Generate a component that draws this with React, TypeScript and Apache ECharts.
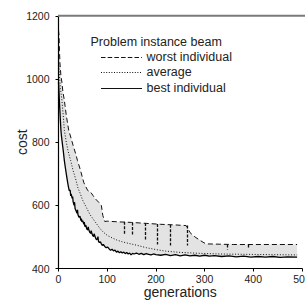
import React, { useEffect, useRef } from "react";
import * as echarts from "echarts";

const FONT = "Liberation Sans, Arial, sans-serif";

// worst individual (dashed)
const worstGen = [0, 1, 2, 3, 5, 7, 9, 12, 16, 21, 26, 30, 35, 39, 45, 52, 60, 66, 71, 75, 80, 85, 88, 91, 95, 100, 120, 150, 180, 210, 240, 262, 266, 270, 276, 282, 290, 297, 303, 330, 360, 400, 450, 490];
const worstVal = [1155, 1140, 1090, 1050, 1010, 990, 960, 933, 885, 838, 812, 790, 765, 742, 712, 672, 647, 642, 631, 622, 614, 606, 600, 568, 549, 550, 548, 546, 543, 540, 538, 536, 526, 514, 505, 498, 490, 483, 478, 477, 476, 476, 476, 476];

// vertical dips of the worst individual
const spikeGen = [134, 152, 178, 203, 229, 264, 346, 389];
const spikeTop = [548, 546, 544, 541, 539, 536, 476, 476];
const spikeBottom = [505, 503, 490, 476, 473, 473, 460, 466];

// average (dotted)
const avgGen = [0, 2, 4, 7, 10, 12, 16, 20, 25, 30, 35, 40, 45, 50, 57, 65, 72, 78, 85, 92, 100, 110, 120, 130, 140, 160, 180, 200, 220, 250, 290, 330, 380, 430, 490];
const avgVal = [1060, 1010, 970, 933, 880, 838, 800, 770, 742, 710, 685, 655, 636, 615, 594, 570, 555, 542, 527, 515, 505, 497, 490, 485, 481, 474, 466, 460, 455, 451, 448, 446, 445, 444, 443];

// best individual (solid)
const bestGen = [0, 1, 2, 3, 4, 5, 6, 8, 10, 12, 14, 16, 18, 20, 22, 24, 25, 26, 28, 29, 30, 32, 33, 34, 36, 38, 39, 40, 42, 44, 46, 47, 48, 50, 52, 53, 54, 56, 58, 60, 61, 62, 64, 66, 67, 68, 70, 72, 73, 74, 76, 78, 80, 81, 82, 84, 86, 88, 90, 92, 95, 98, 101, 104, 107, 110, 113, 116, 119, 122, 125, 128, 131, 134, 137, 140, 143, 146, 149, 152, 155, 160, 165, 170, 175, 180, 185, 190, 195, 200, 210, 220, 230, 240, 250, 260, 270, 280, 290, 300, 310, 320, 335, 350, 365, 380, 395, 410, 425, 440, 455, 470, 490];
const bestVal = [990, 960, 925, 895, 865, 838, 820, 795, 770, 742, 720, 700, 680, 662, 647, 648, 630, 636, 622, 628, 612, 600, 610, 590, 583, 575, 586, 570, 562, 566, 552, 558, 548, 551, 540, 547, 533, 537, 526, 522, 532, 524, 515, 511, 520, 514, 505, 501, 510, 506, 497, 491, 494, 501, 487, 482, 485, 478, 473, 476, 470, 466, 468, 462, 458, 461, 456, 458, 452, 455, 450, 453, 449, 452, 447, 451, 446, 449, 443, 448, 446, 449, 445, 448, 444, 447, 445, 443, 446, 444, 442, 445, 441, 444, 440, 443, 440, 442, 439, 442, 439, 441, 438, 440, 437, 439, 436, 438, 436, 438, 435, 437, 436];

// axis ticks
const xTicks = { min: 0, max: 500, interval: 100 };
const yTicks = { min: 400, max: 1200, interval: 200 };

const legendTitle = "Problem instance beam";
const legendNames = ["worst individual", "average", "best individual"];

export default function App() {
  const ref = useRef<HTMLDivElement>(null);
  useEffect(() => {
    if (!ref.current) return;
    const chart = echarts.init(ref.current, undefined, { renderer: "svg" });
    const worst = worstGen.map((g, i) => [g, worstVal[i]]);
    const avg = avgGen.map((g, i) => [g, avgVal[i]]);
    const best = bestGen.map((g, i) => [g, bestVal[i]]);
    const ink = "#111";
    const legendY = [57.5, 72.5, 88.5];
    const dashes = [[4.5, 2.2], [1, 1.6], null];
    chart.setOption({
      animation: false,
      grid: { left: 58.5, right: 3, top: 16, bottom: 31.5, containLabel: false, outerBoundsMode: "none" },
      xAxis: {
        type: "value",
        min: xTicks.min,
        max: xTicks.max,
        interval: xTicks.interval,
        z: 10,
        axisLine: { show: true, onZero: false, lineStyle: { color: "#000", width: 1.2 } },
        axisTick: { show: true, length: 3, lineStyle: { color: "#000" } },
        axisLabel: { fontSize: 10.5, color: "#222", margin: 5, fontFamily: FONT, formatter: (v: number) => String(v) },
        splitLine: { show: false },
        name: "generations",
        nameLocation: "middle",
        nameGap: 16,
        nameMoveOverlap: false,
        nameTextStyle: { fontSize: 14, color: "#222", fontFamily: FONT },
      },
      yAxis: {
        type: "value",
        min: yTicks.min,
        max: yTicks.max,
        interval: yTicks.interval,
        z: 10,
        axisLine: { show: true, onZero: false, lineStyle: { color: "#000", width: 1.2 } },
        axisTick: { show: true, length: 3, lineStyle: { color: "#000" } },
        axisLabel: { fontSize: 10.5, color: "#222", margin: 9, fontFamily: FONT, formatter: (v: number) => String(v) },
        splitLine: { show: false },
        name: "cost",
        nameLocation: "middle",
        nameGap: 30,
        nameMoveOverlap: false,
        nameTextStyle: { fontSize: 14, color: "#222", fontFamily: FONT },
      },
      series: [
        {
          type: "line",
          data: worst,
          symbol: "none",
          z: 1,
          lineStyle: { width: 0 },
          areaStyle: { color: "#e3e3e3", opacity: 1, origin: "start" },
          silent: true,
        },
        {
          type: "line",
          data: best,
          symbol: "none",
          z: 2,
          lineStyle: { width: 0 },
          areaStyle: { color: "#ffffff", opacity: 1, origin: "start" },
          silent: true,
        },
        {
          type: "line",
          data: worst,
          symbol: "none",
          z: 4,
          lineStyle: { color: ink, width: 1, type: [5, 3] },
          markLine: {
            silent: true,
            symbol: "none",
            label: { show: false },
            lineStyle: { color: ink, width: 1.3, type: [3, 1.5] },
            data: spikeGen.map((g, i) => [
              { coord: [g, spikeTop[i]] },
              { coord: [g, spikeBottom[i]] },
            ]),
          },
        },
        {
          type: "line",
          data: avg,
          symbol: "none",
          z: 4,
          lineStyle: { color: ink, width: 1, type: [1, 1.8] },
        },
        {
          type: "line",
          data: best,
          symbol: "none",
          z: 5,
          lineStyle: { color: "#000", width: 1.3 },
        },
      ],
      graphic: [
        {
          type: "line",
          z: 20,
          shape: { x1: 58, y1: 15.7, x2: 305, y2: 15.7 },
          style: { stroke: "#7a7a7a", lineWidth: 2 },
        },
        {
          type: "text",
          left: 90.5,
          top: 35,
          style: { text: legendTitle, fontSize: 12.5, fill: "#222", fontFamily: FONT },
        },
        ...legendNames.flatMap((name, i) => [
          {
            type: "line",
            shape: { x1: 101, y1: legendY[i], x2: 142, y2: legendY[i] },
            style: { stroke: ink, lineWidth: 1, lineDash: dashes[i] || undefined },
          },
          {
            type: "text",
            left: 146.5,
            top: legendY[i] - 7.5,
            style: { text: name, fontSize: 12.5, fill: "#222", fontFamily: FONT },
          },
        ]),
      ],
    });
    return () => chart.dispose();
  }, []);
  return (
    <div
      ref={ref}
      style={{ position: "fixed", left: 0, top: 0, width: 305, height: 300, background: "#fff" }}
    />
  );
}
